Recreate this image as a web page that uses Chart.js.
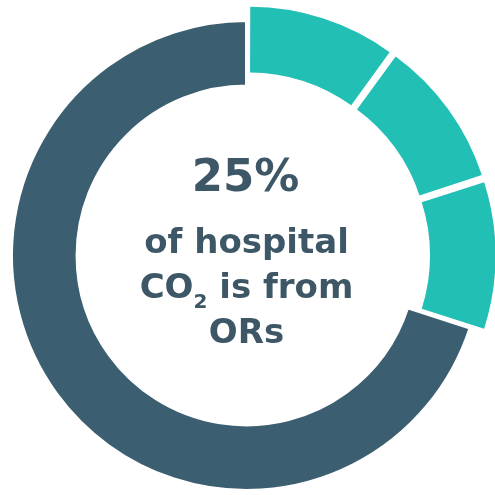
<!DOCTYPE html>
<html>
<head>
<meta charset="utf-8">
<script src="https://cdn.jsdelivr.net/npm/chart.js@4.4.0/dist/chart.umd.min.js"></script>
<style>
  html, body { margin: 0; padding: 0; background: #ffffff; }
  #wrap { width: 495px; height: 495px; position: relative; }
</style>
</head>
<body>
<div id="wrap"><canvas id="co2Chart"></canvas></div>
<script>
// Chart data
const segmentLabels = ["Operating rooms (1)", "Operating rooms (2)", "Operating rooms (3)", "Rest of hospital"];
const segmentValues = [10, 10, 10, 70];
const headline = "25%";
const captionLines = ["of hospital", "CO|2| is from", "ORs"];

// Colours
const tealColor = "#22bfb5";
const slateColor = "#3b5e70";
const textColor = "#3d5767";
const textFont = '"DejaVu Sans"';

// Center caption, drawn on top of the doughnut
const centerText = {
    id: "centerText",
    afterDraw(chart) {
        const arc = chart.getDatasetMeta(0).data[3];
        const cx = arc.x, cy = arc.y;
        const ctx = chart.ctx;
        ctx.save();
        ctx.fillStyle = textColor;
        ctx.textBaseline = "alphabetic";
        ctx.textAlign = "center";

        ctx.font = "bold 45px " + textFont;
        ctx.fillText(headline, cx - 1, cy - 65);

        const lineY = [cy - 3, cy + 42, cy + 87];
        const big = "bold 34px " + textFont;
        const small = "bold 20px " + textFont;
        captionLines.forEach((line, i) => {
            const parts = line.split("|");
            if (parts.length === 1) {
                ctx.textAlign = "center";
                ctx.font = big;
                ctx.fillText(line, cx, lineY[i]);
                return;
            }
            // line with a subscript part in the middle
            ctx.textAlign = "left";
            ctx.font = big;
            const w1 = ctx.measureText(parts[0]).width;
            const w3 = ctx.measureText(parts[2]).width;
            ctx.font = small;
            const w2 = ctx.measureText(parts[1]).width;
            let x = cx - (w1 + w2 + w3) / 2;
            ctx.font = big;
            ctx.fillText(parts[0], x, lineY[i]);
            x += w1;
            ctx.font = small;
            ctx.fillText(parts[1], x, lineY[i] + 10);
            x += w2;
            ctx.font = big;
            ctx.fillText(parts[2], x, lineY[i]);
        });
        ctx.restore();
    }
};

const ctx = document.getElementById("co2Chart").getContext("2d");
new Chart(ctx, {
    type: "doughnut",
    data: {
        labels: segmentLabels,
        datasets: [{
            data: segmentValues,
            backgroundColor: [tealColor, tealColor, tealColor, slateColor],
            borderColor: "#ffffff",
            borderWidth: [0, 0, 0, 3],
            offset: [40, 40, 40, 0]
        }]
    },
    options: {
        responsive: true,
        maintainAspectRatio: false,
        animation: false,
        radius: 235,
        cutout: "72.1%",
        layout: { padding: { left: 0, right: 2, top: 16, bottom: 0 } },
        plugins: {
            legend: { display: false },
            tooltip: { enabled: false }
        }
    },
    plugins: [centerText]
});
</script>
</body>
</html>
